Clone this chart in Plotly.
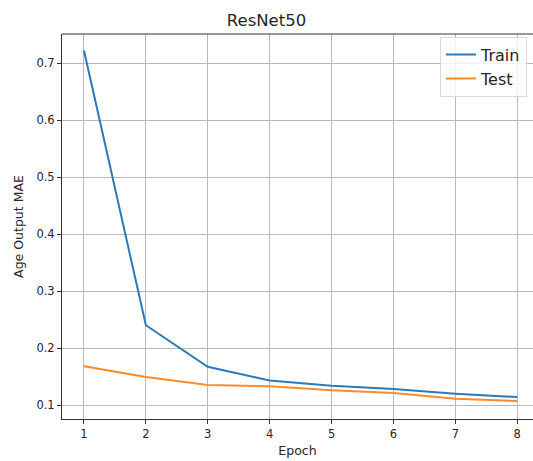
import plotly.graph_objects as go

epochs = [1, 2, 3, 4, 5, 6, 7, 8]
train_mae = [0.722, 0.240, 0.167, 0.143, 0.134, 0.128, 0.120, 0.114]
test_mae = [0.168, 0.149, 0.135, 0.133, 0.126, 0.121, 0.111, 0.107]
x_ticks = [1, 2, 3, 4, 5, 6, 7, 8]
y_ticks = [0.1, 0.2, 0.3, 0.4, 0.5, 0.6, 0.7]

font = "DejaVu Sans"
fig = go.Figure()
fig.add_trace(go.Scatter(x=epochs, y=train_mae, mode="lines", name="Train",
                         line=dict(color="#2a7ab7", width=2)))
fig.add_trace(go.Scatter(x=epochs, y=test_mae, mode="lines", name="Test",
                         line=dict(color="#ff8a2a", width=2)))

axis_common = dict(showgrid=True, gridcolor="#b8b8b8", gridwidth=1,
                   showline=True, linecolor="#333333", linewidth=1,
                   ticks="outside", ticklen=4, tickcolor="#333333", tickwidth=1,
                   tickfont=dict(family=font, size=11.5, color="#262626"),
                   zeroline=False)

fig.update_layout(
    width=533, height=461,
    margin=dict(l=62, r=0, t=34, b=42),
    plot_bgcolor="white", paper_bgcolor="white",
    title=dict(text="ResNet50", x=0.5, xanchor="center", y=1 - 20 / 461, yanchor="middle",
               font=dict(family=font, size=16.5, color="#262626")),
    xaxis=dict(range=[0.645, 8.255], tickvals=x_ticks, mirror=False,
               title=dict(text="Epoch", font=dict(family=font, size=12.5, color="#262626"), standoff=6),
               **axis_common),
    yaxis=dict(range=[0.0755, 0.751], tickvals=y_ticks, tickformat=".1f",
               title=dict(text="Age Output MAE", font=dict(family=font, size=12.5, color="#262626"), standoff=10),
               **axis_common),
    legend=dict(x=0.8025, xanchor="left", y=0.993, yanchor="top",
                bgcolor="rgba(255,255,255,0.8)", bordercolor="#d9d9d9", borderwidth=1,
                font=dict(family=font, size=16, color="#262626")),
    showlegend=True,
)
# top spine
fig.add_shape(type="line", xref="paper", yref="paper", x0=0, x1=1, y0=1, y1=1,
              line=dict(color="#333333", width=1))

fig.write_html("out.html")
